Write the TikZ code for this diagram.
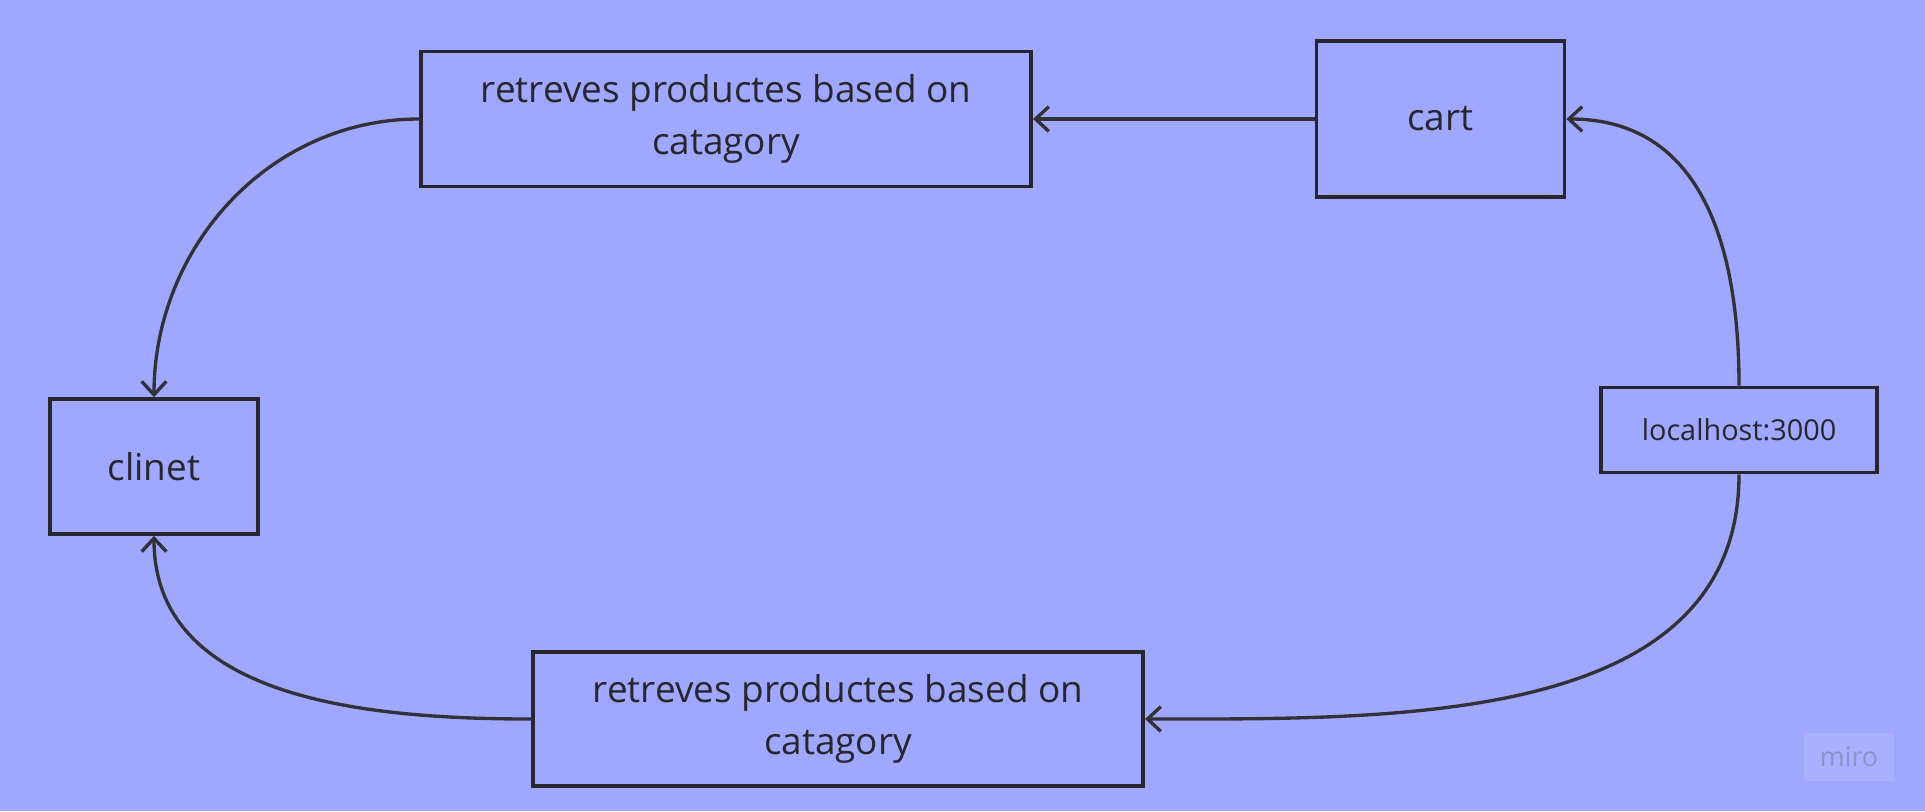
\documentclass[tikz,border=0pt]{standalone}
\usepackage{fontspec}
\setmainfont{Open Sans}
\usetikzlibrary{arrows.meta}
\definecolor{boardbg}{HTML}{9FA8FE}
\definecolor{inkdark}{HTML}{26262E}
\definecolor{logobg}{HTML}{A9B0FF}
\definecolor{logotext}{HTML}{8E92C6}

\begin{document}
\begin{tikzpicture}[x=0.01cm, y=0.01cm,
		box/.style={draw=inkdark, line width=1pt, text=inkdark, align=center, inner sep=0pt,
			font=\fontsize{10.5}{14.6}\selectfont},
		arr/.style={draw=inkdark!95, line width=0.95pt, -{Straight Barb[length=3.8pt, width=7pt]}}]
		%\draw[gray,step=100] (0,0) grid (1925,811);
		\fill[boardbg] (0,0) rectangle (1925,811);
		\useasboundingbox (0,0) rectangle (1925,811);
		\node[box, minimum width=6.1cm, minimum height=1.35cm] (topget) at (726,692) {retreves productes based on\\catagory};
		\node[box, minimum width=2.48cm, minimum height=1.56cm] (cart) at (1440.5,692) {cart};
		\node[box, minimum width=2.08cm, minimum height=1.35cm] (clinet) at (154,344.5) {clinet};
		\node[box, minimum width=2.76cm, minimum height=0.85cm, font=\fontsize{8.2}{10}\selectfont] (host) at (1739,381) {localhost:3000};
		\node[box, minimum width=6.1cm, minimum height=1.34cm] (botget) at (838,92) {retreves productes based on\\catagory};
		\node[fill=logobg, text=logotext, minimum width=0.9cm, minimum height=0.48cm, inner sep=0pt,
			font=\fontsize{7.6}{9}\selectfont] (logo) at (1849,54) {miro};
		\draw[arr] (cart.west) -- (topget.east);
		\draw[arr] (topget.west) to[out=180, in=90] (clinet.north);
		\draw[arr] (botget.west) to[out=180, in=270] (clinet.south);
		\draw[arr] (host.north) to[out=90, in=0, looseness=1.1] (cart.east);
		\draw[arr] (host.south) to[out=270, in=0] (botget.east);
	\end{tikzpicture}
\end{document}
